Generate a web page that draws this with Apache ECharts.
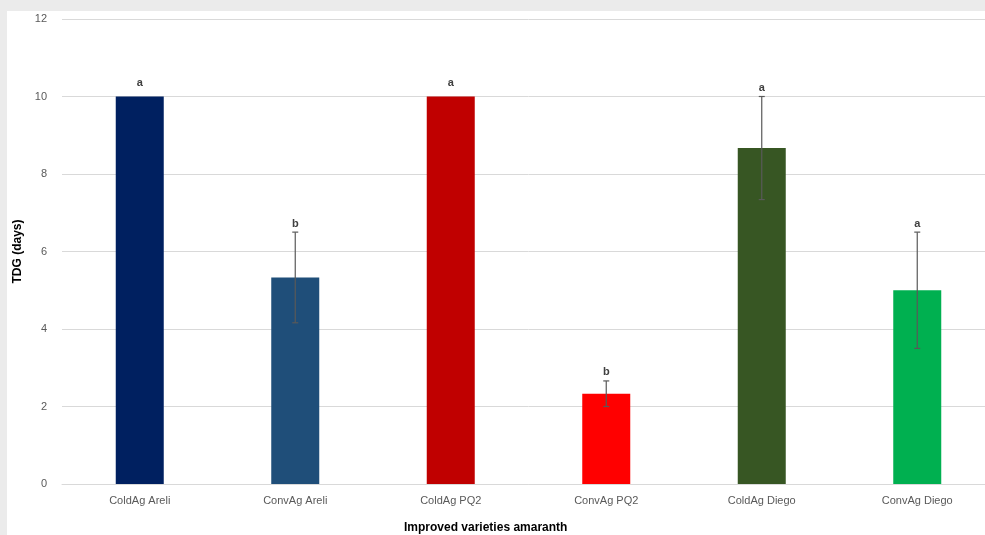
<!DOCTYPE html>
<html>
<head>
<meta charset="utf-8">
<script src="https://cdn.jsdelivr.net/npm/echarts@6/dist/echarts.min.js"></script>
<style>
  html, body { margin: 0; padding: 0; background: #ebebeb; width: 985px; height: 535px; overflow: hidden; }
  #panel { position: absolute; left: 7px; top: 11px; width: 1000px; height: 524px; background: #ffffff; }
</style>
</head>
<body>
<div id="panel"></div>
<script>
// Germination time (TDG) per treatment and variety
const categories = ['ColdAg Areli', 'ConvAg Areli', 'ColdAg PQ2', 'ConvAg PQ2', 'ColdAg Diego', 'ConvAg Diego'];
const meanDays = [10, 5.33, 10, 2.33, 8.67, 5];
const errorDays = [0, 1.17, 0, 0.33, 1.33, 1.5];
const groupLetters = ['a', 'b', 'a', 'b', 'a', 'a'];
const barColors = ['#002060', '#1f4e79', '#c00000', '#ff0000', '#375623', '#00b050'];
const yTicks = [0, 2, 4, 6, 8, 10, 12];

const chart = echarts.init(document.getElementById('panel'), null, { renderer: 'canvas' });

const textFont = 'Liberation Sans, Arial, sans-serif';

chart.setOption({
  animation: false,
  grid: { left: 55, top: 8, width: 933, height: 465, containLabel: false, outerBoundsMode: 'none' },
  xAxis: {
    type: 'category',
    data: categories,
    axisLine: { show: true, lineStyle: { color: '#d9d9d9', width: 1 } },
    axisTick: { show: false },
    axisLabel: { color: '#595959', fontSize: 11, fontFamily: textFont, margin: 11 }
  },
  yAxis: {
    type: 'value',
    min: yTicks[0],
    max: yTicks[yTicks.length - 1],
    interval: 2,
    name: 'TDG (days)',
    nameLocation: 'middle',
    nameGap: 36,
    nameRotate: 90,
    nameTextStyle: { color: '#000000', fontSize: 12, fontWeight: 'bold', fontFamily: textFont },
    axisLine: { show: false },
    axisTick: { show: false },
    axisLabel: { color: '#595959', fontSize: 11, fontFamily: textFont, margin: 15 },
    splitLine: { lineStyle: { color: '#d9d9d9', width: 1 } }
  },
  graphic: [{
    type: 'text',
    left: 397,
    top: 511,
    style: { text: 'Improved varieties amaranth', fill: '#000000', font: 'bold 12px ' + textFont }
  }],
  series: [
    {
      type: 'bar',
      barWidth: 48,
      data: meanDays.map((v, i) => ({ value: v, itemStyle: { color: barColors[i] } })),
      z: 2
    },
    {
      type: 'custom',
      z: 5,
      data: meanDays.map((v, i) => [i, v, errorDays[i]]),
      renderItem: function (params, api) {
        const idx = api.value(0);
        const mean = api.value(1);
        const err = api.value(2);
        const letter = groupLetters[params.dataIndex];
        const top = api.coord([idx, mean + err]);
        const bottom = api.coord([idx, mean - err]);
        const x = top[0];
        const cap = 3;
        const children = [];
        if (err > 0) {
          children.push(
            { type: 'line', shape: { x1: x, y1: top[1], x2: x, y2: bottom[1] }, style: { stroke: '#595959', lineWidth: 1.2 } },
            { type: 'line', shape: { x1: x - cap, y1: top[1], x2: x + cap, y2: top[1] }, style: { stroke: '#595959', lineWidth: 1.2 } },
            { type: 'line', shape: { x1: x - cap, y1: bottom[1], x2: x + cap, y2: bottom[1] }, style: { stroke: '#595959', lineWidth: 1.2 } }
          );
        }
        children.push({
          type: 'text',
          style: {
            text: letter,
            x: x,
            y: top[1] - (err > 0 ? 3 : 8),
            align: 'center',
            verticalAlign: 'bottom',
            fill: '#404040',
            font: 'bold 11px ' + textFont
          }
        });
        return { type: 'group', children: children };
      }
    }
  ]
});
</script>
</body>
</html>
